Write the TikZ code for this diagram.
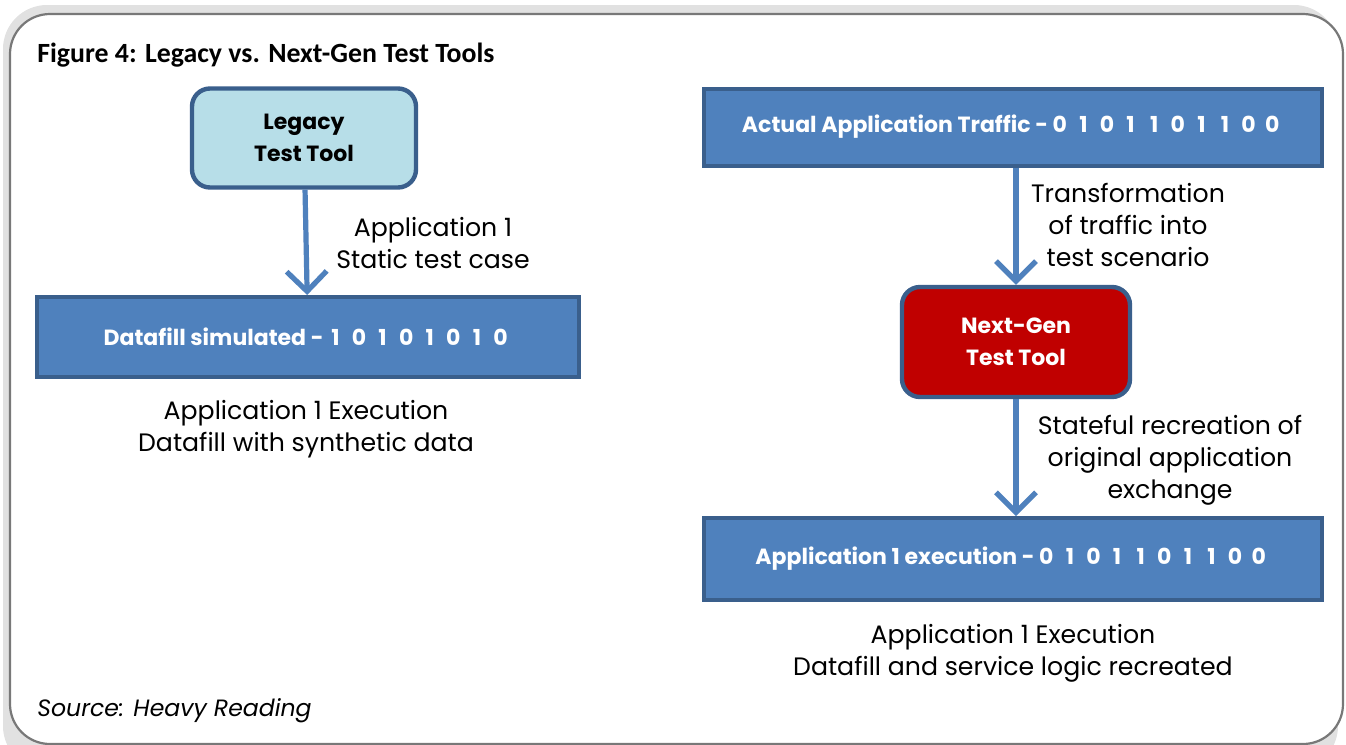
\documentclass[tikz,border=0pt]{standalone}
\usepackage{fontspec}
\setmainfont{Poppins}
\newfontfamily\titlefont{Carlito}
\usepackage{tikz}
\usetikzlibrary{arrows.meta, positioning}

\definecolor{boxblue}{RGB}{79,129,189}
\definecolor{edgeblue}{RGB}{58,95,140}
\definecolor{lightbox}{RGB}{183,222,232}
\definecolor{toolred}{RGB}{192,0,0}
\definecolor{framegray}{RGB}{120,120,120}
\definecolor{shadowgray}{RGB}{225,225,225}

% one bit per fixed cell
\newcommand{\bitrow}[1]{\foreach \b in {#1}{\makebox[11.8pt]{\b}}}

\tikzset{
	databox/.style={draw=edgeblue, fill=boxblue, line width=2pt, text=white,
		font=\bfseries\fontsize{11}{14}\selectfont, inner sep=0pt},
	toolbox/.style={draw=edgeblue, line width=2.2pt, rounded corners=9pt, align=center,
		font=\bfseries\fontsize{11}{16}\selectfont, inner sep=0pt},
	flow/.style={draw=boxblue, line width=2.6pt, -{Straight Barb[length=10pt, width=20pt, line width=2.6pt]}},
	note/.style={align=center, font=\fontsize{12.6}{16}\selectfont, inner sep=0pt}
}

\begin{document}
\begin{tikzpicture}[x=0.5pt, y=-0.5pt]

	\useasboundingbox (0,0) rectangle (1346,745);
	\clip (0,0) rectangle (1346,745);

	% frame
	\fill[shadowgray, rounded corners=22pt] (3,5) rectangle (1338,770);
	\draw[framegray, fill=white, line width=1.1pt, rounded corners=20pt] (10,14) rectangle (1343,744);

	\node[anchor=west, inner sep=0pt, font=\titlefont\bfseries\fontsize{13.9}{16}\selectfont] (title) at (37,55) {Figure 4: Legacy vs. Next-Gen Test Tools};

	% legacy side
	\node[toolbox, fill=lightbox, minimum width=112pt, minimum height=49.5pt] (legacy) at (304,138) {Legacy\\Test Tool};
	\node[databox, minimum width=271pt, minimum height=40pt] (simdata) at (308,337) {Datafill simulated -\bitrow{1,0,1,0,1,0,1,0}};
	\draw[flow] (legacy) -- (simdata);
	\node[note] (staticcase) at (433,243) {Application 1\\Static test case};
	\node[note] (legacyrun) at (306,429) {Application 1 Execution\\Datafill with synthetic data};

	% next-gen side
	\node[databox, minimum width=309pt, minimum height=38.5pt] (traffic) at (1013,127) {Actual Application Traffic -\bitrow{0,1,0,1,1,0,1,1,0,0}};
	\node[toolbox, fill=toolred, text=white, minimum width=114pt, minimum height=55pt] (nextgen) at (1016,342) {Next-Gen\\Test Tool};
	\node[databox, minimum width=309pt, minimum height=41pt] (appexec) at (1013,559) {Application 1 execution -\bitrow{0,1,0,1,1,0,1,1,0,0}};
	\draw[flow] (traffic.south -| nextgen.center) -- (nextgen.north);
	\draw[flow] (nextgen.south) -- (appexec.north -| nextgen.center);
	\node[note] (transform) at (1128,225) {Transformation\\of traffic into\\test scenario};
	\node[note] (stateful) at (1170,460) {Stateful recreation of\\original application\\exchange};
	\node[note] (nextgenrun) at (1013,653) {Application 1 Execution\\Datafill and service logic recreated};

	\node[anchor=west, inner sep=0pt, font=\itshape\fontsize{11.8}{14}\selectfont] (source) at (37,711) {Source: Heavy Reading};

\end{tikzpicture}
\end{document}
